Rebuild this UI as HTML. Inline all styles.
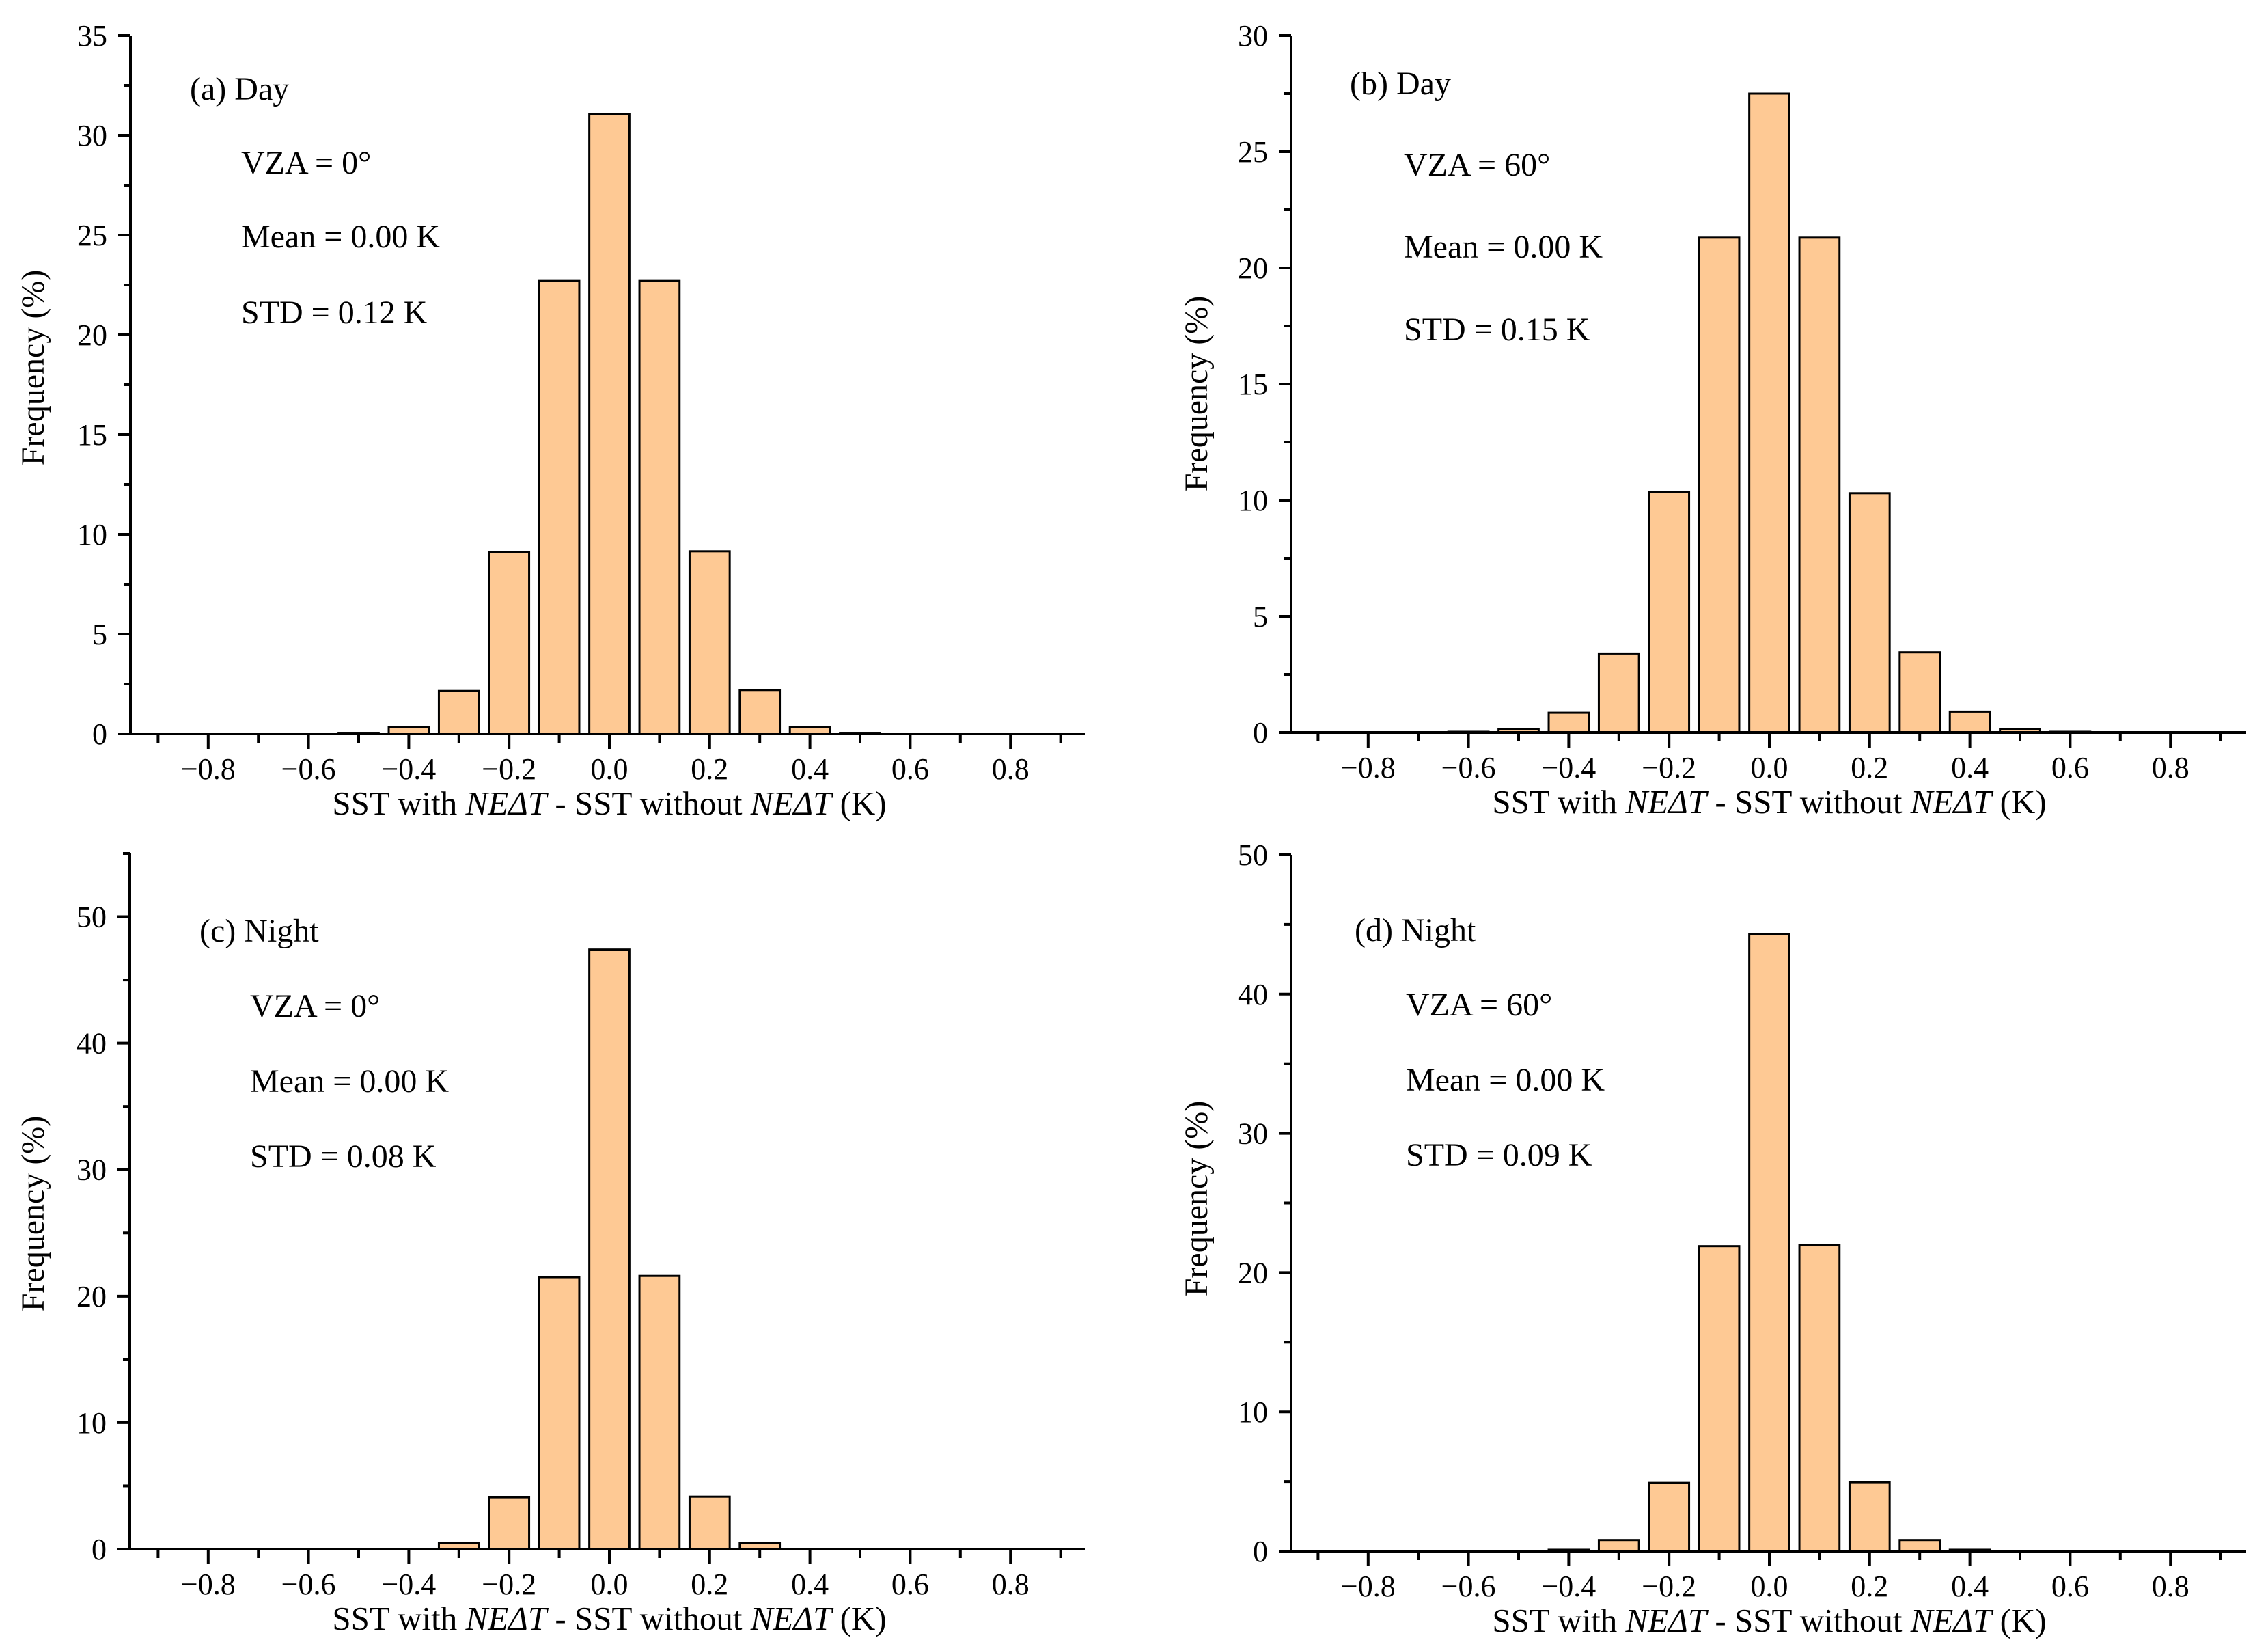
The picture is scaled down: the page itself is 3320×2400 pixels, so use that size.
<!DOCTYPE html>
<html><head><meta charset="utf-8">
<style>
html,body{margin:0;padding:0;background:#fff;}
svg{display:block;}
text{font-family:"Liberation Serif",serif;fill:#000;}
</style></head>
<body>
<svg id="fig" width="3320" height="2400" viewBox="0 0 3320 2400" xmlns="http://www.w3.org/2000/svg"></svg>
<script>
// Bin centers (K)
const binsA = [-0.5,-0.4,-0.3,-0.2,-0.1,0,0.1,0.2,0.3,0.4,0.5];
const freqA = [0.05,0.35,2.15,9.1,22.7,31.05,22.7,9.15,2.2,0.35,0.05];
const binsB = [-0.6,-0.5,-0.4,-0.3,-0.2,-0.1,0,0.1,0.2,0.3,0.4,0.5,0.6];
const freqB = [0.03,0.15,0.85,3.4,10.35,21.3,27.5,21.3,10.3,3.45,0.9,0.15,0.03];
const binsC = [-0.3,-0.2,-0.1,0,0.1,0.2,0.3];
const freqC = [0.5,4.1,21.5,47.4,21.6,4.15,0.5];
const binsD = [-0.4,-0.3,-0.2,-0.1,0,0.1,0.2,0.3,0.4];
const freqD = [0.1,0.8,4.9,21.9,44.3,22.0,4.95,0.8,0.1];
const xTicks = [-0.8,-0.6,-0.4,-0.2,0.0,0.2,0.4,0.6,0.8];
const xTickLabels = ["\u22120.8","\u22120.6","\u22120.4","\u22120.2","0.0","0.2","0.4","0.6","0.8"];
const yTicksA = [0,5,10,15,20,25,30,35];
const yTicksB = [0,5,10,15,20,25,30];
const yTicksC = [0,10,20,30,40,50];
const yTicksD = [0,10,20,30,40,50];

const NS = "http://www.w3.org/2000/svg";
const svg = document.getElementById('fig');
function mk(tag, attrs, parent){const e=document.createElementNS(NS,tag);for(const k in attrs)e.setAttribute(k,attrs[k]);(parent||svg).appendChild(e);return e;}

const panels = [
 {id:'a', bins:binsA, freq:freqA, yt:yTicksA, ymax:35, minorStep:2.5, ax:191, x0:892, step:73.4, right:1589, y0:1074, ytop:52, lbl:"(a) Day", vza:"VZA = 0\u00b0", mean:"Mean = 0.00 K", std:"STD = 0.12 K", lx:278, ly:146, tx:353, ty:[254,362,473], ytx:48, ytc:538},
 {id:'b', bins:binsB, freq:freqB, yt:yTicksB, ymax:30, minorStep:2.5, ax:1890, x0:2590, step:73.4, right:3288, y0:1072, ytop:52, lbl:"(b) Day", vza:"VZA = 60\u00b0", mean:"Mean = 0.00 K", std:"STD = 0.15 K", lx:1976, ly:138, tx:2055, ty:[257,377,498], ytx:1751, ytc:576},
 {id:'c', bins:binsC, freq:freqC, yt:yTicksC, ymax:55, minorStep:5, ax:190, x0:892, step:73.4, right:1589, y0:2267, ytop:1249, lbl:"(c) Night", vza:"VZA = 0\u00b0", mean:"Mean = 0.00 K", std:"STD = 0.08 K", lx:292, ly:1378, tx:366, ty:[1488,1598,1708], ytx:48, ytc:1776},
 {id:'d', bins:binsD, freq:freqD, yt:yTicksD, ymax:50, minorStep:5, ax:1890, x0:2590, step:73.4, right:3288, y0:2270, ytop:1251, lbl:"(d) Night", vza:"VZA = 60\u00b0", mean:"Mean = 0.00 K", std:"STD = 0.09 K", lx:1983, ly:1377, tx:2058, ty:[1486,1596,1706], ytx:1751, ytc:1754}
];

panels.forEach(p=>{
  const g = mk('g',{});
  
  
  const xs = v => p.x0 + v*10*p.step;
  const ys = v => p.y0 - v*(p.y0-p.ytop)/p.ymax;
  const bw = p.step*0.8;
  p.bins.forEach((b,i)=>{
    const top = ys(p.freq[i]);
    const r = mk('rect',{x:xs(b)-bw/2, y:top, width:bw, height:Math.max(p.y0-top,0.5), fill:'#fec994', stroke:'#000', 'stroke-width':3}, g);
    
    
  });
  const yAxis = mk('line',{x1:p.ax, y1:p.ytop, x2:p.ax, y2:p.y0+1.5, stroke:'#000','stroke-width':4}, g);
  
  
  const xAxis = mk('line',{x1:p.ax-2, y1:p.y0, x2:p.right, y2:p.y0, stroke:'#000','stroke-width':4}, g);
  
  
  for(let v=0; v<=p.ymax+0.001; v+=p.minorStep){
    const major = p.yt.includes(v);
    mk('line',{x1:p.ax, x2:p.ax-(major?18:10), y1:ys(v), y2:ys(v), stroke:'#000','stroke-width':4}, g);
  }
  p.yt.forEach(v=>{
    const t = mk('text',{x:p.ax-34, y:ys(v)+15, 'text-anchor':'end','font-size':44}, g);
    t.textContent = v;
    
    
  });
  for(let k=-9;k<=9;k++){
    const major = (k%2===0);
    const x = xs(k/10);
    mk('line',{x1:x, x2:x, y1:p.y0, y2:p.y0+(major?22:13), stroke:'#000','stroke-width':4}, g);
  }
  xTicks.forEach((v,i)=>{
    const t = mk('text',{x:xs(v), y:p.y0+66, 'text-anchor':'middle','font-size':44}, g);
    t.textContent = xTickLabels[i];
    
    
  });
  const xt = mk('text',{x:p.x0, y:p.y0+118, 'text-anchor':'middle','font-size':49}, g);
  xt.innerHTML = 'SST with <tspan font-style="italic">NE\u0394T</tspan> - SST without <tspan font-style="italic">NE\u0394T</tspan> (K)';
  
  
  const cy = p.ytc;
  const yt = mk('text',{x:p.ytx, y:cy, 'text-anchor':'middle','font-size':48, transform:'rotate(-90 '+p.ytx+' '+cy+')', dy:16}, g);
  yt.textContent = 'Frequency (%)';
  
  
  const l = mk('text',{x:p.lx, y:p.ly, 'font-size':48}, g);
  l.textContent = p.lbl;
  
  
  [p.vza,p.mean,p.std].forEach((s,i)=>{
    const a = mk('text',{x:p.tx, y:p.ty[i], 'font-size':48}, g);
    a.textContent = s;
    
    
  });
});
</script>
</body></html>
